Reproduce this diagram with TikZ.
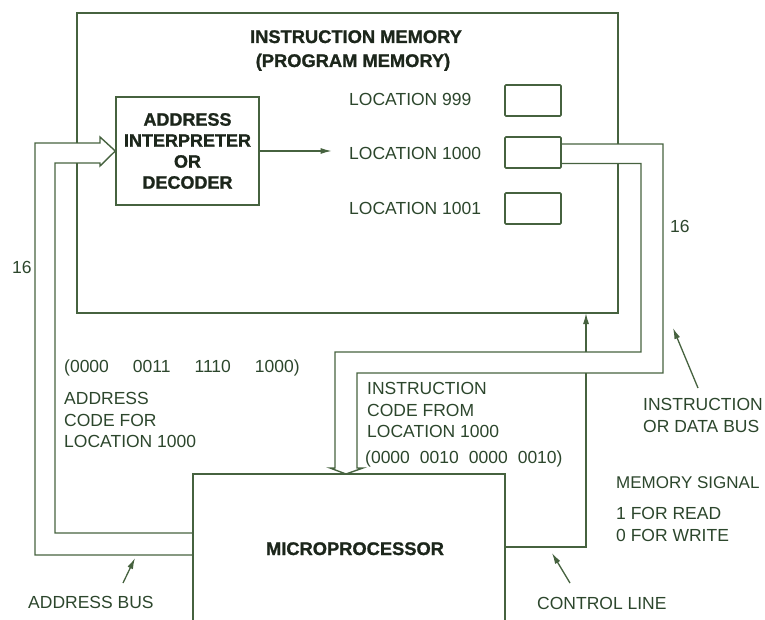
\documentclass[tikz,border=0pt]{standalone}
\usepackage{fontspec}
\setmainfont{Liberation Sans}
\newfontfamily\blackface{Liberation Sans Bold}[FakeBold=1.2]
\usetikzlibrary{arrows.meta}
\definecolor{ink}{HTML}{46623F}
\definecolor{txt}{HTML}{2C462C}
\definecolor{heavy}{HTML}{1C261B}
\begin{document}
\begin{tikzpicture}[x=1pt,y=-1pt,
  wire/.style={draw=ink, line width=1.4pt, line join=miter},
  lbl/.style={text=txt, font=\fontsize{17.5}{21.5}\selectfont, inner sep=0pt},
  hdr/.style={text=heavy, font=\fontsize{18.3}{21.5}\blackface, inner sep=0pt},
  ptr/.style={draw=ink, line width=1.3pt, -{Latex[length=11pt,width=6pt]}},
  cell/.style={draw=ink, line width=1.7pt, rounded corners=1pt, minimum width=56pt, minimum height=31pt, inner sep=0pt},
  decbox/.style={draw=ink, line width=1.4pt, minimum width=143pt, minimum height=108pt, align=center, inner sep=0pt,
    text=heavy, font=\fontsize{18}{21}\blackface}]
\useasboundingbox (0,0) rectangle (765,620);

% instruction memory block, open where the two buses pass through its walls
\draw[wire] (77,143) -- (77,13) -- (618,13) -- (618,144);
\draw[wire] (618,163.5) -- (618,313) -- (77,313) -- (77,163);
\node[hdr, anchor=base] (memtitle) at (356,43) {INSTRUCTION MEMORY};
\node[hdr, anchor=base] (memsub) at (353,67) {(PROGRAM MEMORY)};

% decoder and memory cells
\node[decbox] (dec) at (187.5,151) {ADDRESS\\INTERPRETER\\OR\\DECODER};
\node[cell] (c999)  at (533,100.5) {};
\node[cell] (c1000) at (533,152.5) {};
\node[cell] (c1001) at (533,208.5) {};
\node[lbl, anchor=base west] (l999)  at (349,105.5) {LOCATION 999};
\node[lbl, anchor=base west] (l1000) at (349,159.5) {LOCATION 1000};
\node[lbl, anchor=base west] (l1001) at (349,215) {LOCATION 1001};
\draw[ptr] (dec.east) -- ++(72,0) coordinate (selpt);

% microprocessor (runs off the bottom edge)
\coordinate (mpuSW) at (193,620);
\coordinate (mpuNW) at (193,474);
\coordinate (mpuNE) at (505,474);
\coordinate (mpuSE) at (505,620);
\draw[wire] (mpuSW) -- (mpuNW) -- (mpuNE) -- (mpuSE);
\node[hdr, anchor=base] (mpu) at (355,555) {MICROPROCESSOR};

% address bus: microprocessor -> decoder, hollow arrow head
\draw[wire] (193,555) -- (35,555) -- (35,143) -- (100,143) -- (100,137) -- (dec.west)
  -- (100,166) -- (100,163) -- (55,163) -- (55,533) -- (193,533);
\node[lbl, anchor=base west] (n16a) at (12,273) {16};

% instruction / data bus: location 1000 -> microprocessor
\draw[wire] (c1000.east |- 0,144) -- (663,144) -- (663,373) -- (357,373) -- (357,468)
  -- (363,468) -- (346,474) -- (330,468) -- (335,468) -- (335,352) -- (641,352)
  -- (641,163.5) -- (c1000.east |- 0,163.5);
\node[lbl, anchor=base west] (n16b) at (670,233) {16};

% control line: microprocessor -> memory
\draw[wire] (505,547) -- (586,547) -- (586,373);
\draw[ptr] (586,352) -- (586,313);

% codes (multi-line nodes are placed by the baseline of their last line)
\node[lbl, anchor=base west] (acode) at (64,372)
  {(0000\hspace{24pt}0011\hspace{24pt}1110\hspace{24pt}1000)};
\node[lbl, anchor=base west, align=left] (atext) at (64,447.5)
  {ADDRESS\\CODE FOR\\LOCATION 1000};
\node[lbl, anchor=base west, align=left] (itext) at (367,437.5)
  {INSTRUCTION\\CODE FROM\\LOCATION 1000};
\node[lbl, anchor=base west] (icode) at (365,463)
  {(0000\hspace{10pt}0010\hspace{10pt}0000\hspace{10pt}0010)};

% callouts
\node[lbl, anchor=base west, align=left] (dbus) at (643,432) {INSTRUCTION\\OR DATA BUS};
\draw[ptr] (698,388) -- (673,328);
\node[lbl, anchor=base west, font=\fontsize{17}{21.5}\selectfont] (msig) at (616,488) {MEMORY SIGNAL};
\node[lbl, anchor=base west, align=left] (rw) at (616,541) {1 FOR READ\\0 FOR WRITE};
\node[lbl, anchor=base west] (cline) at (537,609) {CONTROL LINE};
\draw[ptr] (570,583) -- (552,553);
\node[lbl, anchor=base west] (abus) at (28,608) {ADDRESS BUS};
\draw[ptr] (123,583) -- (135,558);
\end{tikzpicture}
\end{document}
